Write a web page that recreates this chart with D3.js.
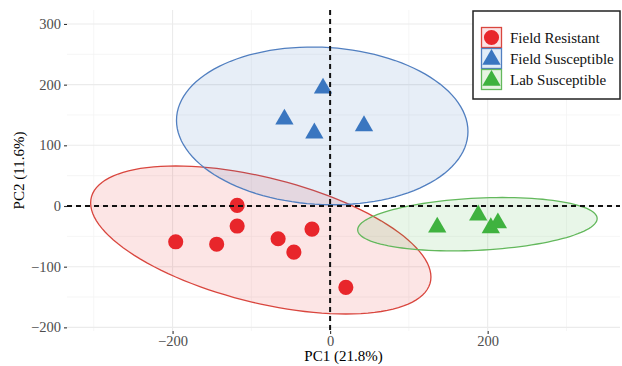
<!DOCTYPE html>
<html>
<head>
<meta charset="utf-8">
<script src="https://cdn.jsdelivr.net/npm/d3@7"></script>
<style>
  body { margin: 0; background: #fff; }
  text { font-family: "Liberation Serif", "Times New Roman", serif; }
</style>
</head>
<body>
<div id="viz"></div>
<script>
// group names and colours
var groups = ['Field Resistant', 'Field Susceptible', 'Lab Susceptible'];
var groupShape = ['circle', 'triangle', 'triangle'];
var pointColor = ['#e8262b', '#3a76c0', '#3fb23f'];
var lineColor = ['#d9463e', '#517fc0', '#63b85c'];
var fillColor = ['#fbe3e5', '#e2edf8', '#e7f4e3'];

// PCA scores
var resistPC1 = [-196, -144, -118, -118, -66, -46, -23, 20];
var resistPC2 = [-59, -63, 1, -33, -54, -76, -38, -134];
var fieldSusPC1 = [-9, -58, -20, 43];
var fieldSusPC2 = [194, 143, 120, 132];
var labSusPC1 = [136, 188, 204, 213];
var labSusPC2 = [-35, -15, -36, -28];

// ellipse per group: centre, half extents on each axis, correlation
var ellCx = [-88, -10, 187];
var ellCy = [-56, 132, -30];
var ellRx = [216, 185, 152];
var ellRy = [122, 130, 44];
var ellR = [-0.5, -0.07, 0.21];

// axis ticks
var xTicks = [-200, 0, 200];
var yTicks = [-200, -100, 0, 100, 200, 300];
var xMinor = [-300, -100, 100, 300];
var yMinor = [-150, -50, 50, 150, 250];

var width = 622, height = 366;
var svg = d3.select('#viz').append('svg')
  .attr('width', width)
  .attr('height', height);

// panel edges
var pLeft = 67, pRight = 620, pTop = 10, pBottom = 331;
var x = d3.scaleLinear().domain([-334, 368]).range([pLeft, pRight]);
var y = d3.scaleLinear().domain([-206, 323]).range([pBottom, pTop]);

// grid lines
var grid = svg.append('g');
grid.selectAll('.xminor').data(xMinor).enter().append('line')
  .attr('x1', function(d) { return x(d); }).attr('x2', function(d) { return x(d); })
  .attr('y1', pTop).attr('y2', pBottom)
  .attr('stroke', '#f3f3f3').attr('stroke-width', 0.8);
grid.selectAll('.yminor').data(yMinor).enter().append('line')
  .attr('y1', function(d) { return y(d); }).attr('y2', function(d) { return y(d); })
  .attr('x1', pLeft).attr('x2', pRight)
  .attr('stroke', '#f3f3f3').attr('stroke-width', 0.8);
grid.selectAll('.xmajor').data(xTicks).enter().append('line')
  .attr('x1', function(d) { return x(d); }).attr('x2', function(d) { return x(d); })
  .attr('y1', pTop).attr('y2', pBottom)
  .attr('stroke', '#ebebeb').attr('stroke-width', 1.1);
grid.selectAll('.ymajor').data(yTicks).enter().append('line')
  .attr('y1', function(d) { return y(d); }).attr('y2', function(d) { return y(d); })
  .attr('x1', pLeft).attr('x2', pRight)
  .attr('stroke', '#ebebeb').attr('stroke-width', 1.1);

// axes
var xAxis = svg.append('g')
  .attr('transform', 'translate(0,' + pBottom + ')')
  .call(d3.axisBottom(x).tickValues(xTicks).tickSize(3).tickPadding(2));
var yAxis = svg.append('g')
  .attr('transform', 'translate(' + pLeft + ',0)')
  .call(d3.axisLeft(y).tickValues(yTicks).tickSize(3).tickPadding(3));
[xAxis, yAxis].forEach(function(a) {
  a.select('.domain').remove();
  a.selectAll('line').attr('stroke', '#333').attr('stroke-width', 1.1);
  a.selectAll('text')
    .attr('fill', '#4d4d4d')
    .style('font-family', '"Liberation Serif", serif')
    .style('font-size', '14.5px');
});

// axis titles
svg.append('text')
  .attr('x', (pLeft + pRight) / 2)
  .attr('y', 361)
  .attr('text-anchor', 'middle')
  .style('font-size', '15px')
  .text('PC1 (21.8%)');
svg.append('text')
  .attr('transform', 'translate(24,' + ((pTop + pBottom) / 2) + ') rotate(-90)')
  .attr('text-anchor', 'middle')
  .style('font-size', '15px')
  .text('PC2 (11.6%)');

// ellipses
function ellipsePoints(i) {
  var ts = d3.range(0, 2 * Math.PI, Math.PI / 60);
  return ts.map(function(t) {
    var px = ellCx[i] + ellRx[i] * Math.cos(t);
    var py = ellCy[i] + ellRy[i] * (ellR[i] * Math.cos(t) + Math.sqrt(1 - ellR[i] * ellR[i]) * Math.sin(t));
    return [px, py];
  });
}
var ellLine = d3.line()
  .x(function(d) { return x(d[0]); })
  .y(function(d) { return y(d[1]); })
  .curve(d3.curveLinearClosed);

var ellG = svg.append('g');
groups.forEach(function(g, i) {
  ellG.append('path')
    .attr('d', ellLine(ellipsePoints(i)))
    .attr('fill', pointColor[i])
    .attr('fill-opacity', 0.12)
    .attr('stroke', lineColor[i])
    .attr('stroke-width', 1.3);
});

// points
var pc1 = [resistPC1, fieldSusPC1, labSusPC1];
var pc2 = [resistPC2, fieldSusPC2, labSusPC2];
var triangle = d3.symbol().type(d3.symbolTriangle).size(145);
var circle = d3.symbol().type(d3.symbolCircle).size(180);

var pts = svg.append('g');
groups.forEach(function(g, i) {
  var data = pc1[i].map(function(v, k) { return [v, pc2[i][k]]; });
  pts.selectAll('.p' + i).data(data).enter().append('path')
    .attr('class', 'p' + i)
    .attr('d', groupShape[i] == 'circle' ? circle : triangle)
    .attr('transform', function(d) { return 'translate(' + x(d[0]) + ',' + y(d[1]) + ')'; })
    .attr('fill', pointColor[i]);
});

// dashed zero lines on top
svg.append('line')
  .attr('x1', x(0)).attr('x2', x(0)).attr('y1', pTop).attr('y2', pBottom)
  .attr('stroke', '#111').attr('stroke-width', 2).attr('stroke-dasharray', '5,4');
svg.append('line')
  .attr('x1', pLeft).attr('x2', pRight).attr('y1', y(0)).attr('y2', y(0))
  .attr('stroke', '#111').attr('stroke-width', 2).attr('stroke-dasharray', '5,4');

// legend
var legend = svg.append('g').attr('transform', 'translate(473,11)');
legend.append('rect')
  .attr('width', 147).attr('height', 88)
  .attr('fill', '#fff')
  .attr('stroke', '#222').attr('stroke-width', 1.5);
var keySize = 21;
groups.forEach(function(g, i) {
  var row = legend.append('g').attr('transform', 'translate(8,' + (16 + i * keySize) + ')');
  row.append('rect')
    .attr('x', 0.5).attr('y', 0.5)
    .attr('width', keySize - 1).attr('height', keySize - 1)
    .attr('fill', fillColor[i])
    .attr('stroke', lineColor[i]).attr('stroke-width', 1.3);
  row.append('path')
    .attr('d', groupShape[i] == 'circle' ? circle : triangle)
    .attr('transform', 'translate(' + (keySize / 2) + ',' + (keySize / 2 + (i > 0 ? 1 : 0)) + ')')
    .attr('fill', pointColor[i]);
  row.append('text')
    .attr('x', 29)
    .attr('y', keySize / 2 + 5)
    .style('font-size', '15px')
    .attr('fill', '#111')
    .text(g);
});
</script>
</body>
</html>
